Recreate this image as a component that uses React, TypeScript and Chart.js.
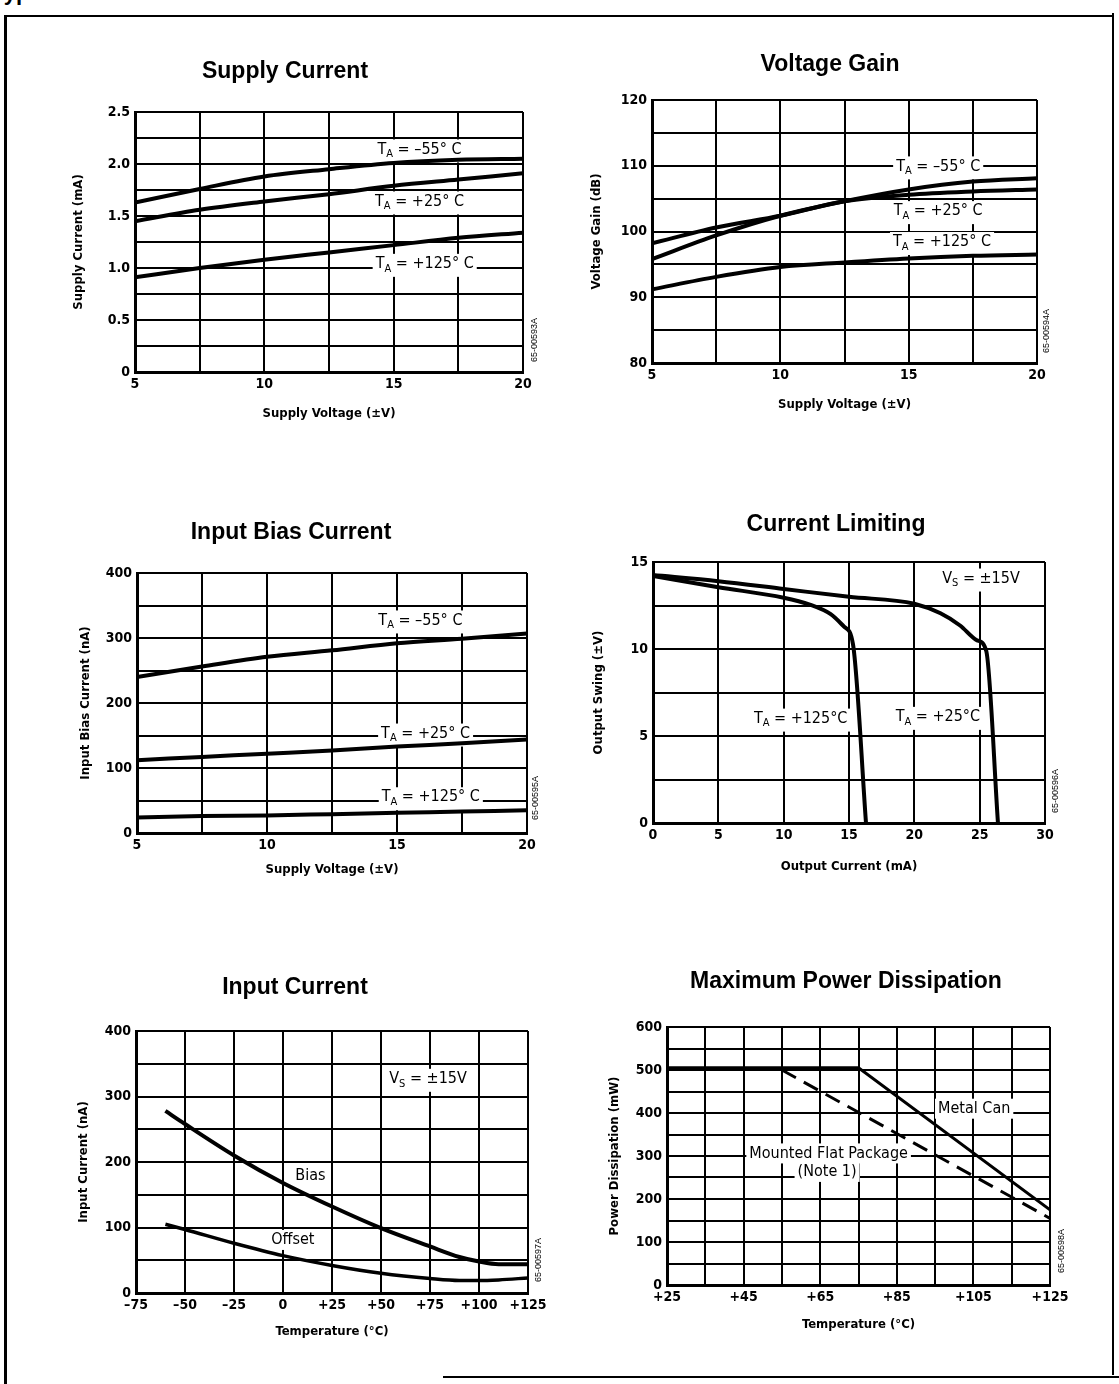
import React, { useEffect, useRef } from 'react';
import { Chart, registerables } from 'chart.js';

Chart.register(...registerables);

const NARROW = "'Liberation Sans Narrow', 'DejaVu Sans Condensed', 'Roboto Condensed', 'Liberation Sans', sans-serif";
const SANS = "'Liberation Sans', Arial, Helvetica, sans-serif";

// ---------- Supply Current ----------
const supplyVoltage = [5, 7.5, 10, 12.5, 15, 17.5, 20];
const supplyCurrentM55 = [1.63, 1.76, 1.88, 1.95, 2.01, 2.04, 2.05];
const supplyCurrentP25 = [1.45, 1.56, 1.64, 1.71, 1.79, 1.85, 1.91];
const supplyCurrentP125 = [0.91, 1.0, 1.08, 1.15, 1.22, 1.29, 1.34];

// ---------- Voltage Gain ----------
const gainM55 = [95.8, 99.4, 102.4, 104.6, 106.4, 107.6, 108.1];
const gainP25 = [98.2, 100.6, 102.4, 104.6, 105.6, 106.1, 106.4];
const gainP125 = [91.2, 93.1, 94.6, 95.3, 95.9, 96.3, 96.5];

// ---------- Input Bias Current ----------
const biasM55 = [240, 256, 271, 281, 292, 299, 307];
const biasP25 = [112, 117, 122, 127, 133, 138, 144];
const biasP125 = [24, 26, 27, 29, 31, 33, 35];

// ---------- Current Limiting ----------
const limit125Current = [0, 5, 10, 12, 13.6, 14.6, 15.3, 16.3];
const limit125Swing = [14.2, 13.55, 12.95, 12.55, 12.0, 11.3, 10.3, 0];
const limit25Current = [0, 5, 10, 15, 20, 22, 23.5, 24.8, 25.5, 26.4];
const limit25Swing = [14.25, 13.9, 13.45, 13.0, 12.6, 12.05, 11.35, 10.5, 9.9, 0];

// ---------- Input Current ----------
const inputTemp = [-60, -50, -25, 0, 25, 50, 75, 90, 100, 110, 125];
const inputBias = [278, 258, 210, 168, 132, 99, 71, 55, 48, 44, 44];
const inputOffset = [105, 97, 76, 57, 42, 30, 22, 19, 19, 20, 23];

// ---------- Maximum Power Dissipation ----------
const metalCanTemp = [25, 75, 125];
const metalCanPower = [505, 505, 175];
const flatPkgTemp = [55, 125];
const flatPkgPower = [500, 155];

type Part = { t: string; sub?: boolean };
type Note = { x: number; y: number; parts: Part[] };
const TA = (rest: string): Part[] => [{ t: 'T' }, { t: 'A', sub: true }, { t: rest }];
const VS = (rest: string): Part[] => [{ t: 'V' }, { t: 'S', sub: true }, { t: rest }];
const TXT = (s: string): Part[] => [{ t: s }];

const zip = (xs: number[], ys: number[]) => xs.map((x, i) => ({ x, y: ys[i] }));

const NOTE_FONT = `16px ${NARROW}`;
const SUB_FONT = `11px ${NARROW}`;

const notesPlugin = {
  id: 'notes',
  beforeDatasetsDraw(chart: any, _args: any, opts: any) {
    const { ctx } = chart;
    const xs = chart.scales.x;
    const ys = chart.scales.y;
    ctx.save();
    for (const n of (opts.items || []) as Note[]) {
      const px = xs.getPixelForValue(n.x);
      const py = ys.getPixelForValue(n.y);
      const ws = n.parts.map((p) => {
        ctx.font = p.sub ? SUB_FONT : NOTE_FONT;
        return ctx.measureText(p.t).width;
      });
      const total = ws.reduce((a: number, b: number) => a + b, 0);
      const hasSub = n.parts.some((p) => p.sub);
      ctx.fillStyle = '#ffffff';
      ctx.fillRect(px - total / 2 - 3, py - 10, total + 6, 20 + (hasSub ? 3 : 0));
      ctx.fillStyle = '#000000';
      ctx.textBaseline = 'middle';
      ctx.textAlign = 'left';
      let cx = px - total / 2;
      n.parts.forEach((p, i) => {
        ctx.font = p.sub ? SUB_FONT : NOTE_FONT;
        ctx.fillText(p.t, cx, py + (p.sub ? 5 : 0));
        cx += ws[i];
      });
    }
    ctx.restore();
  },
  afterDatasetsDraw(chart: any, _args: any, opts: any) {
    const { ctx, chartArea } = chart;
    if (!opts.code) return;
    ctx.save();
    ctx.translate(chartArea.right + (opts.codeDx ?? 11), chartArea.bottom - (opts.codeDy ?? 10));
    ctx.rotate(-Math.PI / 2);
    ctx.font = `9px ${SANS}`;
    ctx.textAlign = 'left';
    ctx.textBaseline = 'middle';
    ctx.fillStyle = '#000';
    ctx.fillText(opts.code, 0, 0);
    ctx.restore();
  },
};

type AxisSpec = { min: number; max: number; step: number; label: (v: number) => string };
type Spec = {
  box: { x0: number; y0: number; x1: number; y1: number };
  title: string; titleX: number; titleY: number;
  yTitle: string; yTitleX: number;
  xTitle: string; xTitleY: number;
  x: AxisSpec; y: AxisSpec;
  datasets: any[];
  notes: Note[];
  code: string; codeDx?: number; codeDy?: number;
};

function layoutOf(s: Spec) {
  const { x0, y0, x1, y1 } = s.box;
  const cx0 = Math.min(s.yTitleX - 12, 2 * s.titleX - (x1 + 30));
  const cx1 = 2 * s.titleX - cx0;
  const cy0 = s.titleY - 18;
  const cy1 = s.xTitleY + 12;
  return { cx0, cx1, cy0, cy1, W: cx1 - cx0, H: cy1 - cy0, yW: x0 - cx0, rW: cx1 - x1, xH: cy1 - y1, topH: y0 - cy0 };
}

const near = (v: number, m: number) => Math.abs(v / m - Math.round(v / m)) < 1e-6;

const TITLE_SIZE = 23;
const TITLE_LH = TITLE_SIZE * 1.2;
const AXIS_TITLE_SIZE = 13;
const AXIS_TITLE_LH = AXIS_TITLE_SIZE * 1.2;

function buildConfig(s: Spec, L: ReturnType<typeof layoutOf>): any {
  const tickFont = { family: NARROW, size: 14, weight: 'bold' as const };
  const axisTitleFont = { family: NARROW, size: AXIS_TITLE_SIZE, weight: 'bold' as const, lineHeight: 1.2 };
  const grid = { color: '#000', lineWidth: 2, drawTicks: false };
  const border = { color: '#000', width: 3 };
  const titlePadTop = s.titleY - L.cy0 - TITLE_LH / 2;
  return {
    type: 'line',
    data: { datasets: s.datasets },
    plugins: [notesPlugin],
    options: {
      responsive: false,
      maintainAspectRatio: false,
      animation: false,
      devicePixelRatio: 1,
      layout: { padding: 0, autoPadding: false },
      elements: { point: { radius: 0 }, line: { borderCapStyle: 'butt' } },
      plugins: {
        legend: { display: false },
        tooltip: { enabled: false },
        title: {
          display: true,
          text: s.title,
          color: '#000',
          font: { family: SANS, size: TITLE_SIZE, weight: 'bold', lineHeight: 1.2 },
          padding: { top: titlePadTop, bottom: L.topH - TITLE_LH - titlePadTop },
        },
        notes: { items: s.notes, code: s.code, codeDx: s.codeDx, codeDy: s.codeDy },
      },
      scales: {
        x: {
          type: 'linear',
          position: 'bottom',
          min: s.x.min, max: s.x.max,
          grid, border,
          ticks: { stepSize: s.x.step, autoSkip: false, maxRotation: 0, padding: 4, color: '#000', font: tickFont, callback: (v: number) => s.x.label(v) },
          title: { display: true, text: s.xTitle, color: '#000', font: axisTitleFont, padding: { top: 0, bottom: L.cy1 - s.xTitleY - AXIS_TITLE_LH / 2 } },
          afterFit: (sc: any) => { sc.height = L.xH; },
        },
        y: {
          type: 'linear',
          position: 'left',
          min: s.y.min, max: s.y.max,
          grid, border,
          ticks: { stepSize: s.y.step, autoSkip: false, padding: 5, color: '#000', font: tickFont, callback: (v: number) => s.y.label(v) },
          title: { display: true, text: s.yTitle, color: '#000', font: axisTitleFont, padding: { top: s.yTitleX - L.cx0 - AXIS_TITLE_LH / 2, bottom: 0 } },
          afterFit: (sc: any) => { sc.width = L.yW; },
        },
        yR: {
          type: 'linear',
          position: 'right',
          display: true,
          grid: { display: false, drawTicks: false },
          border: { display: false },
          ticks: { display: false },
          afterFit: (sc: any) => { sc.width = L.rW; },
        },
      },
    },
  };
}

const curve = (data: { x: number; y: number }[], extra: any = {}) => ({
  data,
  borderColor: '#000',
  backgroundColor: '#000',
  borderWidth: 4,
  cubicInterpolationMode: 'monotone',
  pointRadius: 0,
  fill: false,
  ...extra,
});

const fmtPlain = (v: number) => String(v);
const everyOther = (m: number, f: (v: number) => string) => (v: number) => (near(v, m) ? f(v) : '');
const signed = (v: number) => (v < 0 ? '–' + Math.abs(v) : v > 0 ? '+' + v : '0');

const specs: Spec[] = [
  {
    box: { x0: 135, y0: 112, x1: 523, y1: 372 },
    title: 'Supply Current', titleX: 285, titleY: 72,
    yTitle: 'Supply Current (mA)', yTitleX: 79,
    xTitle: 'Supply Voltage (±V)', xTitleY: 414,
    x: { min: 5, max: 20, step: 2.5, label: everyOther(5, fmtPlain) },
    y: { min: 0, max: 2.5, step: 0.25, label: everyOther(0.5, (v) => (v === 0 ? '0' : v.toFixed(1))) },
    datasets: [
      curve(zip(supplyVoltage, supplyCurrentM55)),
      curve(zip(supplyVoltage, supplyCurrentP25)),
      curve(zip(supplyVoltage, supplyCurrentP125)),
    ],
    notes: [
      { x: 16.0, y: 2.14, parts: TA(' = –55° C') },
      { x: 16.0, y: 1.64, parts: TA(' = +25° C') },
      { x: 16.2, y: 1.04, parts: TA(' = +125° C') },
    ],
    code: '65-00593A', codeDx: 12, codeDy: 10,
  },
  {
    box: { x0: 652, y0: 100, x1: 1037, y1: 363 },
    title: 'Voltage Gain', titleX: 830, titleY: 65,
    yTitle: 'Voltage Gain (dB)', yTitleX: 597,
    xTitle: 'Supply Voltage (±V)', xTitleY: 405,
    x: { min: 5, max: 20, step: 2.5, label: everyOther(5, fmtPlain) },
    y: { min: 80, max: 120, step: 5, label: everyOther(10, fmtPlain) },
    datasets: [
      curve(zip(supplyVoltage, gainM55)),
      curve(zip(supplyVoltage, gainP25)),
      curve(zip(supplyVoltage, gainP125)),
    ],
    notes: [
      { x: 16.15, y: 109.9, parts: TA(' = –55° C') },
      { x: 16.15, y: 103.1, parts: TA(' = +25° C') },
      { x: 16.3, y: 98.4, parts: TA(' = +125° C') },
    ],
    code: '65-00594A', codeDx: 10, codeDy: 10,
  },
  {
    box: { x0: 137, y0: 573, x1: 527, y1: 833 },
    title: 'Input Bias Current', titleX: 291, titleY: 533,
    yTitle: 'Input Bias Current (nA)', yTitleX: 86,
    xTitle: 'Supply Voltage (±V)', xTitleY: 870,
    x: { min: 5, max: 20, step: 2.5, label: everyOther(5, fmtPlain) },
    y: { min: 0, max: 400, step: 50, label: everyOther(100, fmtPlain) },
    datasets: [
      curve(zip(supplyVoltage, biasM55)),
      curve(zip(supplyVoltage, biasP25)),
      curve(zip(supplyVoltage, biasP125)),
    ],
    notes: [
      { x: 15.9, y: 327, parts: TA(' = –55° C') },
      { x: 16.1, y: 153, parts: TA(' = +25° C') },
      { x: 16.3, y: 55, parts: TA(' = +125° C') },
    ],
    code: '65-00595A', codeDx: 9, codeDy: 13,
  },
  {
    box: { x0: 653, y0: 562, x1: 1045, y1: 823 },
    title: 'Current Limiting', titleX: 836, titleY: 525,
    yTitle: 'Output Swing (±V)', yTitleX: 599,
    xTitle: 'Output Current (mA)', xTitleY: 867,
    x: { min: 0, max: 30, step: 5, label: fmtPlain },
    y: { min: 0, max: 15, step: 2.5, label: everyOther(5, fmtPlain) },
    datasets: [
      curve(zip(limit125Current, limit125Swing)),
      curve(zip(limit25Current, limit25Swing)),
    ],
    notes: [
      { x: 25.1, y: 14.05, parts: VS(' = ±15V') },
      { x: 11.3, y: 6.0, parts: TA(' = +125°C') },
      { x: 21.8, y: 6.1, parts: TA(' = +25°C') },
    ],
    code: '65-00596A', codeDx: 11, codeDy: 10,
  },
  {
    box: { x0: 136, y0: 1031, x1: 528, y1: 1293 },
    title: 'Input Current', titleX: 295, titleY: 988,
    yTitle: 'Input Current (nA)', yTitleX: 84,
    xTitle: 'Temperature (°C)', xTitleY: 1332,
    x: { min: -75, max: 125, step: 25, label: signed },
    y: { min: 0, max: 400, step: 50, label: everyOther(100, fmtPlain) },
    datasets: [
      curve(zip(inputTemp, inputBias)),
      curve(zip(inputTemp, inputOffset), { borderWidth: 3.5 }),
    ],
    notes: [
      { x: 74, y: 327, parts: VS(' = ±15V') },
      { x: 14, y: 179, parts: TXT('Bias') },
      { x: 5, y: 81, parts: TXT('Offset') },
    ],
    code: '65-00597A', codeDx: 11, codeDy: 11,
  },
  {
    box: { x0: 667, y0: 1027, x1: 1050, y1: 1285 },
    title: 'Maximum Power Dissipation', titleX: 846, titleY: 982,
    yTitle: 'Power Dissipation (mW)', yTitleX: 615,
    xTitle: 'Temperature (°C)', xTitleY: 1325,
    x: { min: 25, max: 125, step: 10, label: (v) => (near(v - 25, 20) ? '+' + v : '') },
    y: { min: 0, max: 600, step: 50, label: everyOther(100, fmtPlain) },
    datasets: [
      curve(zip(metalCanTemp, metalCanPower), { borderWidth: 3, cubicInterpolationMode: 'default', tension: 0 }),
      curve(zip(flatPkgTemp, flatPkgPower), { borderWidth: 3, borderDash: [16, 9], cubicInterpolationMode: 'default', tension: 0 }),
    ],
    notes: [
      { x: 105.2, y: 410, parts: TXT('Metal Can') },
      { x: 67.2, y: 306, parts: TXT('Mounted Flat Package') },
      { x: 66.8, y: 263, parts: TXT('(Note 1)') },
    ],
    code: '65-00598A', codeDx: 12, codeDy: 12,
  },
];

function ChartBox({ spec }: { spec: Spec }) {
  const ref = useRef<HTMLCanvasElement>(null);
  const L = layoutOf(spec);
  useEffect(() => {
    const chart = new Chart(ref.current as HTMLCanvasElement, buildConfig(spec, L));
    return () => chart.destroy();
  }, []);
  return (
    <canvas
      ref={ref}
      width={L.W}
      height={L.H}
      style={{ position: 'absolute', left: L.cx0, top: L.cy0, width: L.W, height: L.H }}
    />
  );
}

export default function App() {
  return (
    <div style={{ position: 'absolute', left: 0, top: 0, width: 1119, height: 1384, background: '#fff', overflow: 'hidden' }}>
      <div style={{ position: 'absolute', left: -8, top: -18, font: `bold 22px ${SANS}`, lineHeight: '22px', whiteSpace: 'nowrap', color: '#000' }}>
        Typical Performance Characteristics
      </div>
      <div style={{ position: 'absolute', left: 4, top: 15, width: 1110, height: 2, background: '#000' }} />
      <div style={{ position: 'absolute', left: 4, top: 15, width: 3, height: 1369, background: '#000' }} />
      <div style={{ position: 'absolute', left: 1112, top: 13, width: 2, height: 1362, background: '#000' }} />
      <div style={{ position: 'absolute', left: 443, top: 1376, width: 676, height: 2, background: '#000' }} />
      {specs.map((s, i) => (
        <ChartBox key={i} spec={s} />
      ))}
    </div>
  );
}
